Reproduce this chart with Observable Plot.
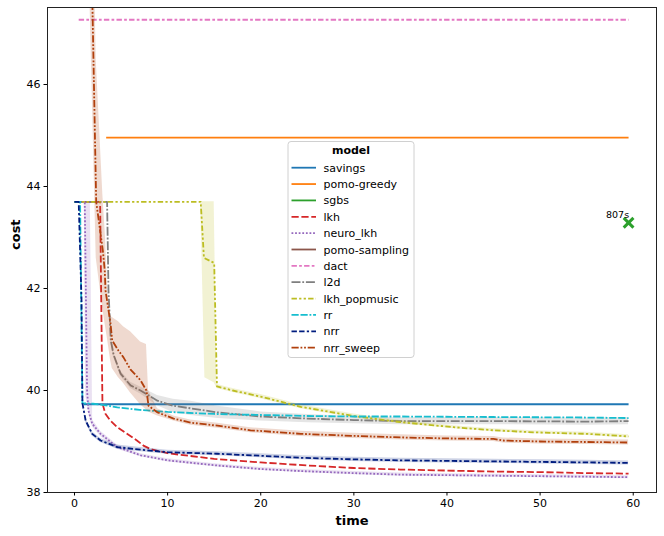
<!DOCTYPE html>
<html><head><meta charset="utf-8">
<script src="https://cdn.jsdelivr.net/npm/d3@7"></script>
<script src="https://cdn.jsdelivr.net/npm/@observablehq/plot@0.6"></script>
<style>
body{margin:0;background:#fff;}
#chart svg{display:block;}
</style></head><body><div id="chart"></div>
<script>
// ---------- categories & styles ----------
const models = ["savings","pomo-greedy","sgbs","lkh","neuro_lkh","pomo-sampling","dact","l2d","lkh_popmusic","rr","nrr","nrr_sweep"];
const colors = ["#1f77b4","#ff7f0e","#2ca02c","#d62728","#9467bd","#8c564b","#e377c2","#7f7f7f","#bcbd22","#17becf","#001c7f","#b1400d"];
const dashUnits = [null,null,null,[4,1.5],[1,1],null,[3,1.25,1.5,1.25],[5,1,1,1],[3,1.25,1.25,1.25,1.25,1.25],[4,1,4,1,1,1],[3,1.25,3,1.25,1.25,1.25],[4,1,1,1,1,1]];
const xTicks = [0,10,20,30,40,50,60];
const yTicks = [38,40,42,44,46];

// ---------- series values (time, cost) ----------
const savingsTime = [1.0, 59.5];
const savingsCost = [39.73, 39.73];
const pomoGreedyTime = [3.4, 59.5];
const pomoGreedyCost = [44.96, 44.96];
const dactTime = [0.45, 59.5];
const dactCost = [47.27, 47.27];
const sgbsTime = [59.5];
const sgbsCost = [43.29];
const sgbsLabel = ["807s"];

const lkhTime = [0, 2.75, 2.95, 3.0, 3.3, 3.8, 4.6, 6.7, 7.4, 8.2, 10, 15, 20, 25, 30, 35, 40, 45, 50, 55, 59.5];
const lkhCost = [43.7, 43.7, 40.5, 39.75, 39.55, 39.42, 39.28, 39.02, 38.92, 38.85, 38.77, 38.66, 38.59, 38.53, 38.48, 38.45, 38.43, 38.41, 38.40, 38.38, 38.37];

const neuroTime = [0, 1.1, 1.35, 1.5, 1.9, 2.8, 4.6, 7.1, 10, 15.3, 20, 24.3, 30, 35, 40, 45, 50, 55, 59.5];
const neuroCost = [43.7, 43.7, 40.0, 39.6, 39.35, 39.15, 38.89, 38.73, 38.63, 38.53, 38.46, 38.42, 38.38, 38.35, 38.34, 38.33, 38.32, 38.31, 38.30];
const neuroBandTime = [1.05, 1.2, 1.7, 1.95, 2.8, 4.6, 7.1, 10, 15.3, 20, 24.3, 30, 35, 40, 45, 50, 55, 59.5];
const neuroBandLo = [43.7, 39.9, 39.4, 39.28, 39.1, 38.85, 38.7, 38.6, 38.5, 38.43, 38.39, 38.35, 38.32, 38.31, 38.30, 38.29, 38.28, 38.27];
const neuroBandHi = [43.7, 43.7, 43.7, 39.42, 39.2, 38.93, 38.76, 38.66, 38.56, 38.49, 38.45, 38.41, 38.38, 38.37, 38.36, 38.35, 38.34, 38.33];

const nrrTime = [0, 0.45, 0.75, 0.85, 1.2, 1.9, 2.8, 4.6, 7.1, 10, 15.3, 20, 24.3, 30, 35, 40, 45, 50, 55, 59.5];
const nrrCost = [43.7, 43.7, 41.8, 39.75, 39.41, 39.15, 39.02, 38.89, 38.84, 38.79, 38.76, 38.72, 38.68, 38.65, 38.63, 38.62, 38.61, 38.60, 38.59, 38.58];
const nrrHalf = [0, 0, 0, 0.02, 0.04, 0.04, 0.04, 0.04, 0.04, 0.04, 0.04, 0.04, 0.04, 0.04, 0.04, 0.04, 0.04, 0.04, 0.04, 0.04];

const rrTime = [0, 0.6, 0.85, 2, 3, 4.6, 7, 10, 15, 20, 25, 30, 35, 45, 55, 59.5];
const rrCost = [43.7, 43.7, 39.75, 39.74, 39.72, 39.67, 39.62, 39.58, 39.54, 39.52, 39.50, 39.49, 39.49, 39.48, 39.47, 39.46];

const l2dTime = [0, 3.5, 3.65, 3.9, 4.2, 4.95, 6.02, 7.09, 8.9, 10.6, 12.5, 15.4, 20, 25, 30, 35, 45, 55, 59.5];
const l2dCost = [43.7, 43.7, 41.96, 40.98, 40.7, 40.33, 40.1, 40.0, 39.8, 39.7, 39.65, 39.57, 39.49, 39.45, 39.42, 39.40, 39.40, 39.39, 39.40];
const l2dHalf = [0, 0, 0.03, 0.04, 0.05, 0.05, 0.06, 0.07, 0.1, 0.13, 0.14, 0.12, 0.09, 0.08, 0.07, 0.07, 0.07, 0.07, 0.07];

const popTime = [0, 13.55, 13.9, 15.0, 15.3, 17, 20, 24.3, 30, 35, 40.7, 45, 49.3, 55, 59.5];
const popCost = [43.7, 43.7, 42.6, 42.5, 40.08, 40.0, 39.88, 39.68, 39.5, 39.38, 39.28, 39.22, 39.18, 39.15, 39.1];
const popBandTime = [13.55, 14.0, 15.0, 15.3, 17, 20, 24.3, 30, 35, 40.7, 45, 49.3, 55, 59.5];
const popBandLo = [43.7, 40.25, 40.15, 40.04, 39.96, 39.84, 39.64, 39.46, 39.35, 39.25, 39.19, 39.15, 39.12, 39.07];
const popBandHi = [43.7, 43.7, 43.7, 40.12, 40.04, 39.92, 39.72, 39.54, 39.41, 39.31, 39.25, 39.21, 39.18, 39.13];

const sweepTime = [1.35, 2.33, 3.04, 3.25, 3.33, 3.87, 4.05, 4.73, 5.26, 6.02, 7.09, 7.73, 7.95, 8.92, 10.64, 12.46, 15.36, 18.9, 24.3, 30, 35, 40, 45, 46, 50, 55, 59.5];
const sweepCost = [53, 43.7, 42.75, 42.35, 41.96, 41.31, 40.98, 40.78, 40.65, 40.41, 40.2, 40.0, 39.7, 39.57, 39.45, 39.37, 39.31, 39.22, 39.15, 39.11, 39.08, 39.06, 39.05, 39.02, 39.0, 38.99, 38.98];
const sweepBandTime = [1.35, 2.33, 3.04, 3.33, 3.55, 3.87, 4.05, 4.73, 5.26, 6.02, 7.09, 7.73, 7.95, 8.92, 10.64, 12.46, 15.36, 18.9, 24.3, 30, 35, 40, 45, 46, 50, 55, 59.5];
const sweepBandLo = [50, 42.6, 41.6, 41.25, 41.0, 40.6, 40.43, 40.25, 40.14, 39.95, 39.72, 39.62, 39.58, 39.5, 39.4, 39.32, 39.26, 39.17, 39.1, 39.06, 39.03, 39.01, 39.0, 38.97, 38.95, 38.94, 38.93];
const sweepBandHi = [56, 46.5, 43.85, 43.0, 42.0, 41.45, 41.43, 41.35, 41.25, 41.15, 40.95, 40.9, 40.0, 39.64, 39.5, 39.42, 39.36, 39.27, 39.2, 39.16, 39.13, 39.11, 39.1, 39.07, 39.05, 39.04, 39.03];

// ---------- build tables ----------
const zip = (t, c) => t.map((x, i) => ({t: x, c: c[i]}));
const zipBand = (t, lo, hi) => t.map((x, i) => ({t: x, lo: lo[i], hi: hi[i]}));
const zipHalf = (t, c, h) => t.map((x, i) => ({t: x, lo: c[i] - h[i], hi: c[i] + h[i]}));

const lineSeries = {
  "savings": zip(savingsTime, savingsCost),
  "pomo-greedy": zip(pomoGreedyTime, pomoGreedyCost),
  "lkh": zip(lkhTime, lkhCost),
  "neuro_lkh": zip(neuroTime, neuroCost),
  "dact": zip(dactTime, dactCost),
  "l2d": zip(l2dTime, l2dCost),
  "lkh_popmusic": zip(popTime, popCost),
  "rr": zip(rrTime, rrCost),
  "nrr": zip(nrrTime, nrrCost),
  "nrr_sweep": zip(sweepTime, sweepCost)
};
const bandSeries = {
  "neuro_lkh": zipBand(neuroBandTime, neuroBandLo, neuroBandHi),
  "l2d": zipHalf(l2dTime, l2dCost, l2dHalf),
  "lkh_popmusic": zipBand(popBandTime, popBandLo, popBandHi),
  "nrr": zipHalf(nrrTime, nrrCost, nrrHalf),
  "nrr_sweep": zipBand(sweepBandTime, sweepBandLo, sweepBandHi)
};

const LW = 1.8;
const colorOf = m => colors[models.indexOf(m)];
const dashOf = m => { const d = dashUnits[models.indexOf(m)]; return d ? d.map(v => (v * LW).toFixed(2)).join(",") : null; };

const marks = [];
for (const m of models) {
  if (bandSeries[m]) marks.push(Plot.areaY(bandSeries[m], {x: "t", y1: "lo", y2: "hi", fill: colorOf(m), fillOpacity: 0.2, clip: true}));
  if (lineSeries[m]) {
    const opts = {x: "t", y: "c", stroke: colorOf(m), strokeWidth: LW, strokeLinecap: "butt", strokeLinejoin: "round", clip: true};
    const d = dashOf(m); if (d) opts.strokeDasharray = d;
    marks.push(Plot.line(lineSeries[m], opts));
  }
}
const sgbsRows = sgbsTime.map((t, i) => ({t, c: sgbsCost[i], label: sgbsLabel[i]}));
marks.push(Plot.dot(sgbsRows, {x: "t", y: "c", symbol: "times", r: 4.5, stroke: colorOf("sgbs"), strokeWidth: 3}));
marks.push(Plot.text(sgbsRows, {x: "t", y: "c", text: "label", dx: -11, dy: -8, fontSize: 9.5, fill: "#000"}));

const chartSvg = Plot.plot({
  width: 664, height: 536,
  marginLeft: 47, marginRight: 8, marginTop: 7, marginBottom: 44,
  x: {domain: [-2.9, 62.5]},
  y: {domain: [38, 47.51]},
  style: {fontFamily: "DejaVu Sans, sans-serif", fontSize: "11px", color: "#000", background: "#fff"},
  marks: [
    ...marks,
    Plot.frame({stroke: "#222", strokeWidth: 1}),
    Plot.axisX(xTicks, {tickSize: 3.5, tickPadding: 3.5, label: null, fontSize: 11, tickFormat: d3.format("d")}),
    Plot.axisY(yTicks, {tickSize: 3.5, tickPadding: 3.5, label: null, fontSize: 11, tickFormat: d3.format("d")}),
    Plot.text(["time"], {frameAnchor: "bottom", dy: 32, fontWeight: "bold", fontSize: 13, fill: "#000"}),
    Plot.text(["cost"], {frameAnchor: "left", dx: -32, rotate: -90, fontWeight: "bold", fontSize: 13, fill: "#000"})
  ]
});
document.getElementById("chart").appendChild(chartSvg);

// ---------- legend ----------
const svg = d3.select(chartSvg);
const lg = svg.append("g").attr("font-family", "DejaVu Sans, sans-serif").attr("font-size", 11).attr("text-anchor", "start");
lg.append("rect").attr("x", 288).attr("y", 141.5).attr("width", 126).attr("height", 216).attr("rx", 3)
  .attr("fill", "#fff").attr("fill-opacity", 0.85).attr("stroke", "#d0d0d0");
lg.append("text").attr("x", 351).attr("y", 154).attr("text-anchor", "middle").attr("font-weight", "bold").text("model");
models.forEach((m, i) => {
  const y = 167.7 + i * 16.36;
  const ln = lg.append("line").attr("x1", 291.5).attr("x2", 316).attr("y1", y).attr("y2", y)
    .attr("stroke", colorOf(m)).attr("stroke-width", LW);
  const d = dashOf(m); if (d) ln.attr("stroke-dasharray", d);
  lg.append("text").attr("x", 323.5).attr("y", y + 4).attr("text-anchor", "start").text(m);
});
</script>
</body></html>
